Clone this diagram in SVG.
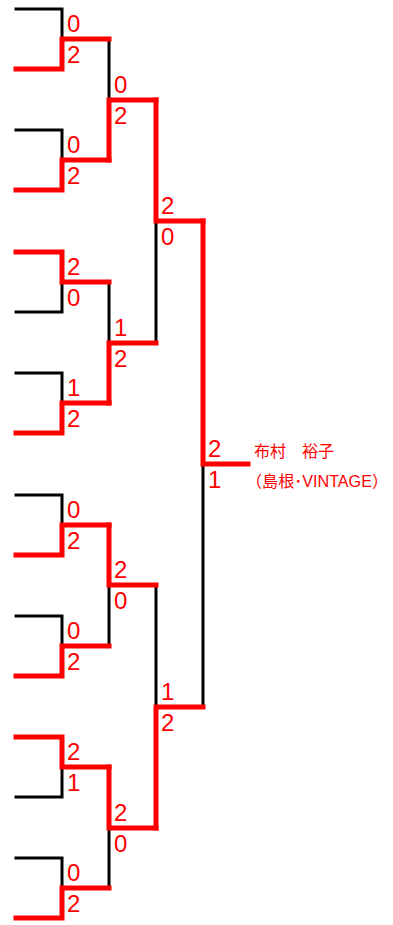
<svg xmlns="http://www.w3.org/2000/svg" width="393" height="925" viewBox="0 0 393 925">
<style>
.l{fill:none;stroke:#000;stroke-width:3;stroke-linecap:square}
.w{fill:none;stroke:#f00;stroke-width:5;stroke-linecap:square}
.s{font-family:"Liberation Sans",Arial,sans-serif;font-size:24px;fill:#f00}
.n{font-family:"Liberation Sans","Noto Sans CJK JP",sans-serif;font-size:16px;fill:#f00}
</style>
<rect width="393" height="925" fill="#fff"/>
<g id="connectors">
<path class="l" d="M16 9H62V39"/>
<path class="l" d="M16 130H62V160"/>
<path class="l" d="M16 312H62V282"/>
<path class="l" d="M16 373H62V403"/>
<path class="l" d="M16 495H62V525"/>
<path class="l" d="M16 616H62V646"/>
<path class="l" d="M16 797H62V767"/>
<path class="l" d="M16 858H62V888"/>
<path class="l" d="M109 39V100"/>
<path class="l" d="M109 282V343"/>
<path class="l" d="M109 646V585"/>
<path class="l" d="M109 888V828"/>
<path class="l" d="M156 343V221"/>
<path class="l" d="M156 585V707"/>
<path class="l" d="M203 707V464"/>
<path class="w" d="M16 69H62V39H109"/>
<path class="w" d="M16 190H62V160H109"/>
<path class="w" d="M16 252H62V282H109"/>
<path class="w" d="M16 433H62V403H109"/>
<path class="w" d="M16 555H62V525H109"/>
<path class="w" d="M16 676H62V646H109"/>
<path class="w" d="M16 737H62V767H109"/>
<path class="w" d="M16 918H62V888H109"/>
<path class="w" d="M109 160V100H156"/>
<path class="w" d="M109 403V343H156"/>
<path class="w" d="M109 525V585H156"/>
<path class="w" d="M109 767V828H156"/>
<path class="w" d="M156 100V221H203"/>
<path class="w" d="M156 828V707H203"/>
<path class="w" d="M203 221V464H248"/>
</g>
<g id="scores">
<text class="s" x="67" y="32">0</text><text class="s" x="67" y="63">2</text>
<text class="s" x="67" y="153">0</text><text class="s" x="67" y="184">2</text>
<text class="s" x="67" y="275">2</text><text class="s" x="67" y="306">0</text>
<text class="s" x="67" y="396">1</text><text class="s" x="67" y="427">2</text>
<text class="s" x="67" y="518">0</text><text class="s" x="67" y="549">2</text>
<text class="s" x="67" y="639">0</text><text class="s" x="67" y="670">2</text>
<text class="s" x="67" y="760">2</text><text class="s" x="67" y="791">1</text>
<text class="s" x="67" y="881">0</text><text class="s" x="67" y="912">2</text>
<text class="s" x="114" y="93">0</text><text class="s" x="114" y="124">2</text>
<text class="s" x="114" y="336">1</text><text class="s" x="114" y="367">2</text>
<text class="s" x="114" y="578">2</text><text class="s" x="114" y="609">0</text>
<text class="s" x="114" y="821">2</text><text class="s" x="114" y="852">0</text>
<text class="s" x="161" y="214">2</text><text class="s" x="161" y="245">0</text>
<text class="s" x="161" y="700">1</text><text class="s" x="161" y="731">2</text>
<text class="s" x="208" y="457">2</text><text class="s" x="208" y="488">1</text>
</g>
<g id="winner">
<text class="n" x="254" y="457">布村　裕子</text>
<text class="n" x="246" y="487" textLength="142" lengthAdjust="spacingAndGlyphs">（島根･VINTAGE）</text>
</g>
</svg>
